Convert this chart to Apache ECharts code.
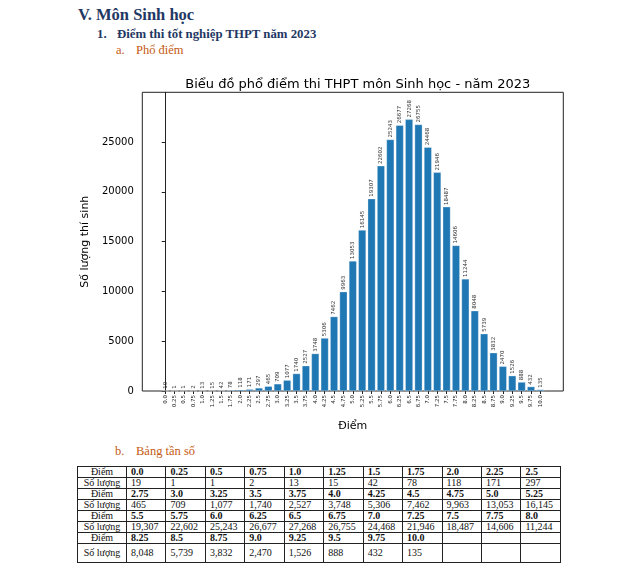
<!DOCTYPE html>
<html>
<head>
<meta charset="utf-8">
<script src="https://cdn.jsdelivr.net/npm/echarts@6/dist/echarts.min.js"></script>
<style>
  html, body { margin: 0; padding: 0; background: #fff; width: 640px; height: 567px; overflow: hidden; }
  #chart { position: absolute; left: 0; top: 0; width: 640px; height: 440px; }
  .doc { position: absolute; font-family: 'Liberation Serif', 'Times New Roman', serif; white-space: nowrap; }
  .h1 { left: 78px; top: 5px; font-size: 16.5px; font-weight: bold; color: #1F3864; }
  .h2n { left: 97px; top: 27px; font-size: 12.8px; font-weight: bold; color: #1F3864; }
  .h2 { left: 117px; top: 27px; font-size: 12.8px; font-weight: bold; color: #1F3864; }
  .h3n { left: 116px; top: 43px; font-size: 12.5px; color: #C55A11; }
  .h3 { left: 136px; top: 43px; font-size: 12.5px; color: #C55A11; }
  .h4n { left: 115px; top: 444px; font-size: 12.5px; color: #C55A11; }
  .h4 { left: 136px; top: 444px; font-size: 12.5px; color: #C55A11; }
  table.freq { position: absolute; left: 77px; top: 466px; border-collapse: collapse; font-family: 'Liberation Serif', 'Times New Roman', serif; font-size: 10px; color: #111; table-layout: fixed; }
  table.freq td { border: 1px solid #222; padding: 0 0 0 4px; height: 10px; line-height: 10px; overflow: hidden; white-space: nowrap; }
  table.freq td.head { text-align: center; padding: 0; font-weight: normal; }
  table.freq td.b { font-weight: bold; }
  table.freq tr.tall td { height: 18px; }
</style>
</head>
<body>
<div class="doc h1">V. Môn Sinh học</div>
<div class="doc h2n">1.</div>
<div class="doc h2">Điểm thi tốt nghiệp THPT năm 2023</div>
<div class="doc h3n">a.</div>
<div class="doc h3">Phổ điểm</div>
<div id="chart"></div>
<div class="doc h4n">b.</div>
<div class="doc h4">Bảng tần số</div>
<table class="freq" id="freq"></table>
<script>
// ---- data ----
const scoreLabels = ["0.0","0.25","0.5","0.75","1.0","1.25","1.5","1.75","2.0","2.25","2.5",
  "2.75","3.0","3.25","3.5","3.75","4.0","4.25","4.5","4.75","5.0","5.25",
  "5.5","5.75","6.0","6.25","6.5","6.75","7.0","7.25","7.5","7.75","8.0",
  "8.25","8.5","8.75","9.0","9.25","9.5","9.75","10.0"];
const counts = [19,1,1,2,13,15,42,78,118,171,297,
  465,709,1077,1740,2527,3748,5306,7462,9963,13053,16145,
  19307,22602,25243,26677,27268,26755,24468,21946,18487,14606,11244,
  8048,5739,3832,2470,1526,888,432,135];
const yTickStep = 5000;
const yMax = 29995;
const chartTitle = "Biểu đồ phổ điểm thi THPT môn Sinh học - năm 2023";
const xName = "Điểm";
const yName = "Số lượng thí sinh";
const rowHeadScore = "Điểm";
const rowHeadCount = "Số lượng";

// ---- chart ----
const chart = echarts.init(document.getElementById('chart'), null, {renderer: 'canvas'});
const idx = scoreLabels.map((_, i) => i);
const font = "'DejaVu Sans', sans-serif";
chart.setOption({
  animation: false,
  title: {
    text: chartTitle,
    left: 352.8, top: 73, textAlign: 'center',
    textStyle: { fontFamily: font, fontSize: 13, fontWeight: 'normal', color: '#000' }
  },
  grid: { left: 142.3, top: 92.3, width: 421, height: 298.7, show: true, borderColor: '#222', borderWidth: 1, backgroundColor: 'transparent' },
  xAxis: {
    type: 'value', min: -2.44, max: 42.44,
    name: xName, nameLocation: 'middle', nameGap: 30,
    nameTextStyle: { fontFamily: font, fontSize: 11, color: '#000' },
    axisLine: { show: false },
    splitLine: { show: false },
    axisTick: { show: true, length: 3, lineStyle: { color: '#222' }, customValues: idx },
    axisLabel: { customValues: idx, rotate: 90, fontFamily: font, fontSize: 5.5, color: '#222', margin: 4,
      formatter: v => scoreLabels[Math.round(v)] }
  },
  yAxis: {
    type: 'value', min: 0, max: yMax, interval: yTickStep,
    name: yName, nameLocation: 'middle', nameGap: 44, nameRotate: 90,
    nameTextStyle: { fontFamily: font, fontSize: 11, color: '#000' },
    axisLine: { show: true, lineStyle: { color: '#222', width: 1 } },
    splitLine: { show: false },
    axisTick: { show: true, length: 3.5, lineStyle: { color: '#222' } },
    axisLabel: { fontFamily: font, fontSize: 10, color: '#000', margin: 8.5, showMaxLabel: false,
      formatter: v => String(v) }
  },
  series: [{
    type: 'bar',
    data: counts.map((v, i) => [i, v]),
    barWidth: 7.5,
    itemStyle: { color: '#1f77b4', borderColor: '#ffffff', borderWidth: 0.3 },
    label: {
      show: true, position: 'top', rotate: 90, align: 'left', verticalAlign: 'middle',
      distance: 2, fontFamily: font, fontSize: 5.5, color: '#333',
      formatter: p => String(p.value[1])
    }
  }]
});

// ---- table ----
const table = document.getElementById('freq');
const perRow = 11;
const colgroup = document.createElement('colgroup');
const c0 = document.createElement('col'); c0.style.width = '49px'; colgroup.appendChild(c0);
for (let j = 0; j < perRow; j++) { const c = document.createElement('col'); c.style.width = '39.45px'; colgroup.appendChild(c); }
table.appendChild(colgroup);
for (let start = 0; start < scoreLabels.length; start += perRow) {
  const r1 = document.createElement('tr');
  const r2 = document.createElement('tr');
  if (start + perRow >= scoreLabels.length) r2.className = 'tall';
  const h1 = document.createElement('td'); h1.className = 'head'; h1.textContent = rowHeadScore; r1.appendChild(h1);
  const h2 = document.createElement('td'); h2.className = 'head'; h2.textContent = rowHeadCount; r2.appendChild(h2);
  for (let j = 0; j < perRow; j++) {
    const k = start + j;
    const a = document.createElement('td'); a.className = 'b';
    const b = document.createElement('td');
    if (k < scoreLabels.length) {
      a.textContent = scoreLabels[k];
      b.textContent = counts[k].toLocaleString('en-US');
    }
    r1.appendChild(a); r2.appendChild(b);
  }
  table.appendChild(r1); table.appendChild(r2);
}
</script>
</body>
</html>
